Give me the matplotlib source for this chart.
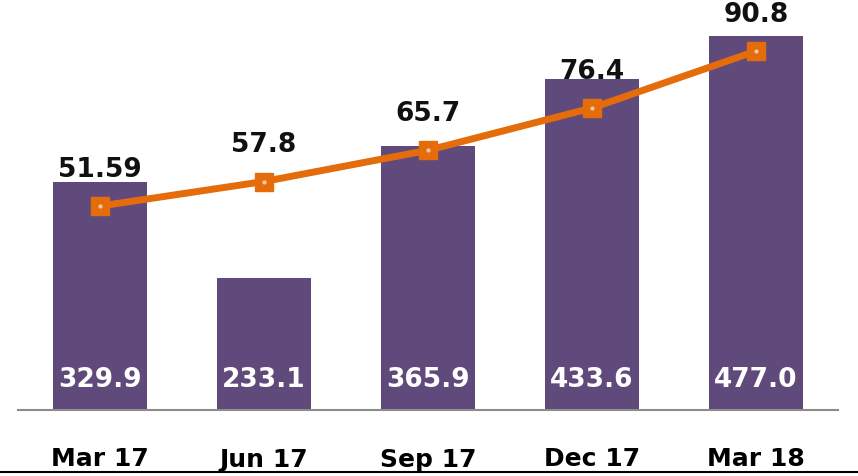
import matplotlib.pyplot as plt
from matplotlib.lines import Line2D
import numpy as np

# data
quarters = ["Mar 17", "Jun 17", "Sep 17", "Dec 17", "Mar 18"]
bar_vals = [329.9, 233.1, 365.9, 433.6, 477.0]
line_vals = [51.59, 57.8, 65.7, 76.4, 90.8]
bar_text = ["329.9", "233.1", "365.9", "433.6", "477.0"]
line_text = ["51.59", "57.8", "65.7", "76.4", "90.8"]

purple = "#604A7B"
orange = "#E46C0A"

fig = plt.figure(figsize=(8.58, 4.76), dpi=100)
ax = fig.add_axes([18/858, 66/476, 820/858, 410/476])
x = np.arange(len(quarters))

ax.bar(x, bar_vals, width=0.573, color=purple, zorder=2)
ax.set_ylim(100, 100 + 410/0.9925)
ax.set_xlim(-0.5, 4.5)
for i, t in enumerate(bar_text):
    ax.annotate(t, (x[i], 100), xytext=(0, 21.5), textcoords="offset points",
                ha="center", va="center", color="white", fontsize=19, fontweight="bold")

ax2 = ax.twinx()
ax2.plot(x, line_vals, color=orange, lw=5, marker="s", markersize=13,
         markeredgecolor=orange, markerfacecolor=orange, zorder=3)
ax2.plot(x, line_vals, ls="none", marker="o", markersize=2, color="#F6C9A6", zorder=4)
ax2.set_ylim(0, 410/3.953)
for i, t in enumerate(line_text):
    ax2.annotate(t, (x[i], line_vals[i]), xytext=(0, 26), textcoords="offset points",
                 ha="center", va="center", color="#111111", fontsize=19, fontweight="bold")

for a in (ax, ax2):
    for s in ["top", "left", "right"]:
        a.spines[s].set_visible(False)
    a.set_yticks([])
ax2.spines["bottom"].set_visible(False)
ax.spines["bottom"].set_color("#8C8C8C")
ax.spines["bottom"].set_linewidth(1.5)

ax.set_xticks(x)
ax.set_xticklabels(quarters, fontsize=18, fontweight="bold", color="black")
ax.tick_params(axis="x", length=0, pad=27)

fig.add_artist(Line2D([0, 1], [4/476, 4/476], color="black", lw=1.5))

fig.savefig("out.png", dpi=100)
